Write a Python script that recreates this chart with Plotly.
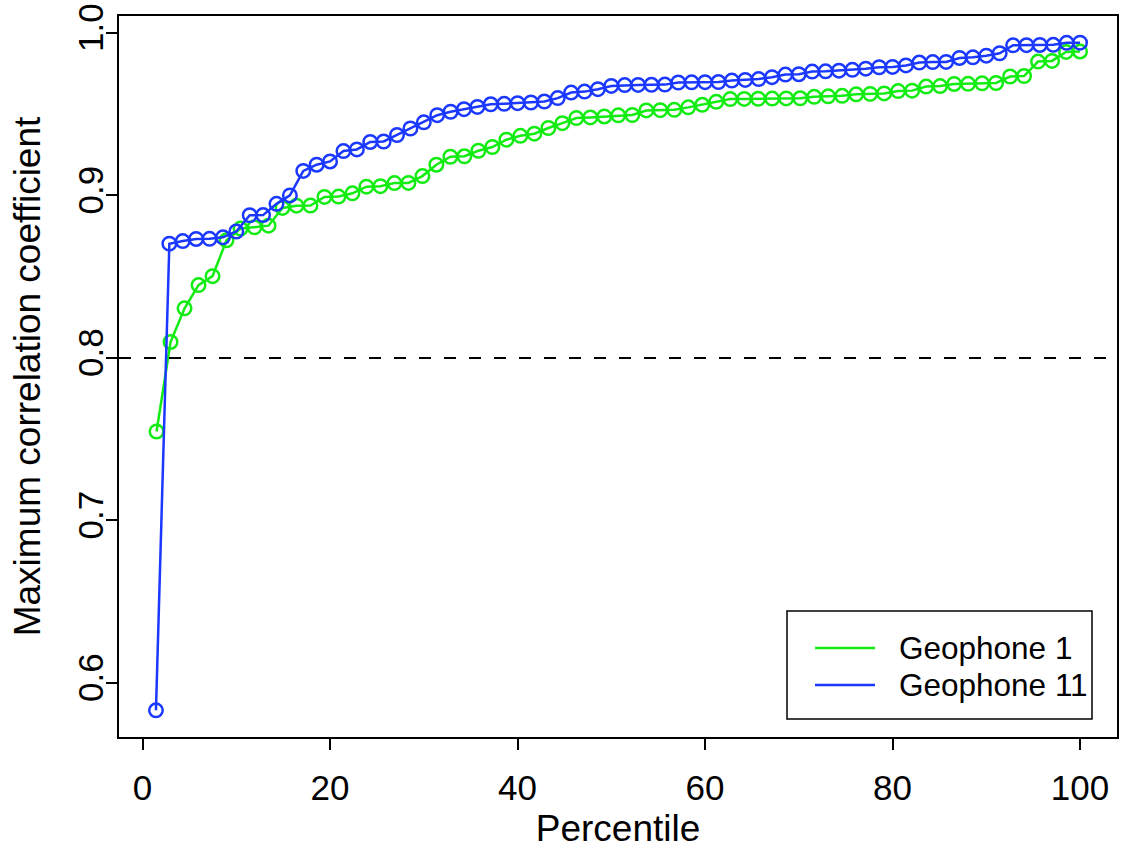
import plotly.graph_objects as go

# Percentile levels for each geophone (different event counts per station)
n_geo1 = 67
n_geo11 = 70
pct_geo1 = [100 * k / n_geo1 for k in range(1, n_geo1 + 1)]
pct_geo11 = [100 * k / n_geo11 for k in range(1, n_geo11 + 1)]

# Maximum correlation coefficient at each percentile
corr_geo1 = [
    0.7547, 0.8098, 0.8305, 0.8448, 0.8503, 0.8724, 0.8796, 0.8804, 0.8814, 0.8923,
    0.8937, 0.8938, 0.8991, 0.8993, 0.9013, 0.9054, 0.9057, 0.9076, 0.9077, 0.9119,
    0.9189, 0.9238, 0.9241, 0.9275, 0.9298, 0.9343, 0.9367, 0.9380, 0.9415, 0.9445,
    0.9476, 0.9480, 0.9486, 0.9493, 0.9495, 0.9523, 0.9525, 0.9527, 0.9542, 0.9558,
    0.9576, 0.9593, 0.9594, 0.9595, 0.9596, 0.9597, 0.9598, 0.9607, 0.9610, 0.9613,
    0.9622, 0.9625, 0.9628, 0.9642, 0.9645, 0.9670, 0.9673, 0.9686, 0.9687, 0.9690,
    0.9692, 0.9732, 0.9735, 0.9824, 0.9828, 0.9883, 0.9886,
]
corr_geo11 = [
    0.5831, 0.8703, 0.8719, 0.8732, 0.8733, 0.8742, 0.8778, 0.8878, 0.8879, 0.8948,
    0.9000, 0.9151, 0.9189, 0.9209, 0.9273, 0.9283, 0.9329, 0.9332, 0.9372, 0.9412,
    0.9450, 0.9494, 0.9515, 0.9531, 0.9545, 0.9561, 0.9564, 0.9568, 0.9572, 0.9578,
    0.9599, 0.9633, 0.9639, 0.9654, 0.9674, 0.9679, 0.9680, 0.9681, 0.9682, 0.9695,
    0.9696, 0.9697, 0.9698, 0.9707, 0.9711, 0.9716, 0.9728, 0.9744, 0.9746, 0.9762,
    0.9764, 0.9768, 0.9773, 0.9780, 0.9789, 0.9791, 0.9800, 0.9818, 0.9821, 0.9822,
    0.9846, 0.9850, 0.9860, 0.9875, 0.9924, 0.9925, 0.9926, 0.9927, 0.9939, 0.9940,
]

series_names = ["Geophone 1", "Geophone 11"]
series_colors = ["#12ec12", "#1a38ff"]
threshold = 0.8

x_ticks = [0, 20, 40, 60, 80, 100]
y_ticks = [0.6, 0.7, 0.8, 0.9, 1.0]
y_ticklabels = ["0.6", "0.7", "0.8", "0.9", "1.0"]

FONT = "Liberation Sans, Arial, Helvetica, sans-serif"
TICK_SIZE = 35
TITLE_SIZE = 37
LEGEND_SIZE = 31.5


def padded(lo, hi, frac=0.04):
    span = hi - lo
    return [lo - frac * span, hi + frac * span]


all_x = pct_geo1 + pct_geo11
all_y = corr_geo1 + corr_geo11
x_range = padded(min(all_x), max(all_x))
y_range = padded(min(all_y), max(all_y))

fig = go.Figure()
for xs, ys, name, color in [
    (pct_geo1, corr_geo1, series_names[0], series_colors[0]),
    (pct_geo11, corr_geo11, series_names[1], series_colors[1]),
]:
    fig.add_trace(go.Scatter(
        x=xs, y=ys, name=name, mode="lines+markers",
        line=dict(color=color, width=2.5),
        marker=dict(symbol="circle-open", size=13.5, color=color,
                    line=dict(color=color, width=2.5)),
        showlegend=False,
    ))

# Dashed reference line at the threshold
fig.add_shape(type="line", xref="paper", x0=0, x1=1, yref="y",
              y0=threshold, y1=threshold,
              line=dict(color="black", width=2, dash="12px,13px"))

# Boxed legend in the lower right corner
L, R, T, B = 119, 1117, 16, 737
W, H = R - L, B - T


def px_x(p):
    return (p - L) / W


def px_y(p):
    return (B - p) / H


fig.add_shape(type="rect", xref="paper", yref="paper",
              x0=px_x(787), x1=px_x(1092), y0=px_y(719), y1=px_y(611),
              line=dict(color="black", width=1.5), fillcolor="white", layer="above")
for name, color, row_y in zip(series_names, series_colors, [648, 685]):
    fig.add_shape(type="line", xref="paper", yref="paper",
                  x0=px_x(815), x1=px_x(875), y0=px_y(row_y), y1=px_y(row_y),
                  line=dict(color=color, width=2.5), layer="above")
    fig.add_annotation(xref="paper", yref="paper", x=px_x(897), y=px_y(row_y),
                       text=name, showarrow=False, xanchor="left", yanchor="middle",
                       font=dict(family=FONT, size=LEGEND_SIZE, color="black"))

axis_common = dict(
    automargin=False,
    showline=True, linecolor="black", linewidth=2, mirror=True,
    showgrid=False, zeroline=False,
    ticks="outside", ticklen=11, tickwidth=1.5, tickcolor="black",
    tickfont=dict(family=FONT, size=TICK_SIZE, color="black"),
)

fig.update_xaxes(range=x_range, tickvals=x_ticks, ticklabelstandoff=8,
                 title=dict(text="Percentile",
                            font=dict(family=FONT, size=TITLE_SIZE, color="black"),
                            standoff=10),
                 **axis_common)
fig.update_yaxes(range=y_range, tickvals=y_ticks, ticktext=y_ticklabels, tickangle=-90,
                 ticklabelstandoff=-11,
                 title=dict(text="Maximum correlation coefficient",
                            font=dict(family=FONT, size=TITLE_SIZE, color="black"),
                            standoff=19),
                 **axis_common)

fig.update_layout(
    width=1126, height=849,
    margin=dict(l=L, r=1126 - R, t=T, b=849 - B),
    plot_bgcolor="white", paper_bgcolor="white",
    font=dict(family=FONT, color="black"),
)

fig.write_html("out.html")
